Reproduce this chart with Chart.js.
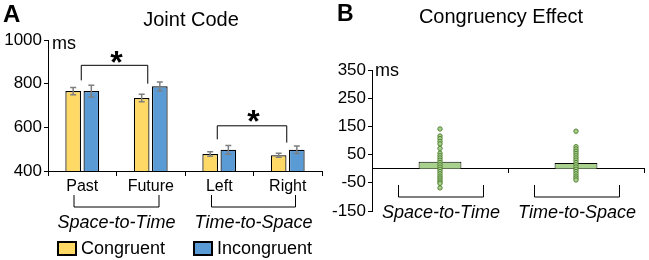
<!DOCTYPE html>
<html>
<head>
<meta charset="utf-8">
<script src="https://cdn.jsdelivr.net/npm/chart.js@4"></script>
<style>
  body { margin: 0; background: #fff; width: 649px; height: 260px; overflow: hidden; position: relative; }
  canvas { position: absolute; top: 0; }
  #jointChart { left: 0; }
  #effectChart { left: 320px; }
</style>
</head>
<body>
<canvas id="jointChart" width="330" height="260"></canvas>
<canvas id="effectChart" width="329" height="260"></canvas>
<script>
// Panel A data
const conditions = ["Past", "Future", "Left", "Right"];
const congruentRT = [766, 734, 478, 472];
const incongruentRT = [766, 788, 497, 497];
const congruentErr = [17, 17, 10, 9];
const incongruentErr = [27, 20, 20, 17];
const jointTicks = [400, 600, 800, 1000];

// Panel B data
const tasks = ["Space-to-Time", "Time-to-Space"];
const effectMeans = [25, 20];
const effectSpaceToTime = [141, 116, 107, 97, 88, 72, 55, 46, 38, 30, 22, 14, 6, -2, -10, -18, -26, -33, -40, -47, -52, -68];
const effectTimeToSpace = [133, 78, 70, 62, 54, 46, 38, 30, 22, 14, 6, -2, -10, -18, -26, -33, -40];
const effectTicks = [-150, -50, 50, 150, 250, 350];

const FONT = 'Arial, "Liberation Sans", sans-serif';
Chart.defaults.font.family = FONT;
Chart.defaults.color = "#000";

const yellow = "#FFD966";
const blue = "#5B9BD5";
const green = "#A9D18E";

function txt(ctx, s, x, y, size, opts = {}) {
  ctx.save();
  ctx.font = (opts.style || "") + " " + size + "px " + FONT;
  ctx.fillStyle = "#000";
  ctx.textAlign = opts.align || "center";
  ctx.textBaseline = opts.baseline || "middle";
  ctx.fillText(s, x, y);
  ctx.restore();
}

function bracket(ctx, x1, x2, y, y1, y2) {
  ctx.beginPath();
  ctx.moveTo(x1, y1);
  ctx.lineTo(x1, y);
  ctx.lineTo(x2, y);
  ctx.lineTo(x2, y2);
  ctx.stroke();
}

// Panel A: error bars, brackets, labels, legend
const jointExtras = {
  id: "jointExtras",
  afterDatasetsDraw(chart) {
    const ctx = chart.ctx;
    const ys = chart.scales.y;
    const errs = [congruentErr, incongruentErr];
    ctx.save();
    ctx.strokeStyle = "#7F7F7F";
    ctx.lineWidth = 1.5;
    chart.data.datasets.forEach((ds, i) => {
      chart.getDatasetMeta(i).data.forEach((bar, j) => {
        const v = ds.data[j];
        const top = ys.getPixelForValue(v + errs[i][j]);
        const bot = ys.getPixelForValue(v - errs[i][j]);
        ctx.beginPath();
        ctx.moveTo(bar.x, top); ctx.lineTo(bar.x, bot);
        ctx.moveTo(bar.x - 3, top); ctx.lineTo(bar.x + 3, top);
        ctx.moveTo(bar.x - 3, bot); ctx.lineTo(bar.x + 3, bot);
        ctx.stroke();
      });
    });
    ctx.restore();
  },
  afterDraw(chart) {
    const ctx = chart.ctx;
    const xs = chart.scales.x, ys = chart.scales.y;
    const cx = i => xs.getPixelForValue(i);

    txt(ctx, "A", 3, 15, 24, { style: "bold", align: "left" });
    txt(ctx, "Joint Code", 191, 20, 20);
    txt(ctx, "ms", 52, 44, 18, { align: "left" });

    // significance brackets
    ctx.save();
    ctx.strokeStyle = "#000";
    ctx.lineWidth = 1;
    bracket(ctx, cx(0) - 1, cx(1) - 3, ys.getPixelForValue(884), ys.getPixelForValue(815), ys.getPixelForValue(800));
    bracket(ctx, cx(2) - 2, cx(3) - 1, ys.getPixelForValue(607), ys.getPixelForValue(545), ys.getPixelForValue(530));
    ctx.restore();
    txt(ctx, "*", (cx(0) + cx(1)) / 2, 73, 32, { style: "bold", baseline: "alphabetic" });
    txt(ctx, "*", (cx(2) + cx(3)) / 2, 132, 32, { style: "bold", baseline: "alphabetic" });

    // group brackets and labels
    ctx.save();
    ctx.strokeStyle = "#000";
    ctx.lineWidth = 1;
    const g1 = (cx(0) + cx(1)) / 2, g2 = (cx(2) + cx(3)) / 2;
    bracket(ctx, g1 - 42.5, g1 + 42.5, 207, 195, 195);
    bracket(ctx, g2 - 42, g2 + 42, 207, 195, 195);
    ctx.restore();
    txt(ctx, "Space-to-Time", g1, 223, 18, { style: "italic" });
    txt(ctx, "Time-to-Space", g2, 223, 18, { style: "italic" });

    // legend
    const items = [[chart.data.datasets[0], 58], [chart.data.datasets[1], 194]];
    items.forEach(([ds, x]) => {
      ctx.save();
      ctx.fillStyle = ds.backgroundColor;
      ctx.strokeStyle = "#000";
      ctx.lineWidth = 2;
      ctx.fillRect(x, 242, 18, 13);
      ctx.strokeRect(x, 242, 18, 13);
      ctx.restore();
      txt(ctx, ds.label, x + 23, 249, 18, { align: "left" });
    });
  }
};

new Chart(document.getElementById("jointChart"), {
  type: "bar",
  data: {
    labels: conditions,
    datasets: [
      { label: "Congruent", data: congruentRT, backgroundColor: yellow, borderColor: "#000", borderWidth: 1.2 },
      { label: "Incongruent", data: incongruentRT, backgroundColor: blue, borderColor: "#000", borderWidth: 1.2 }
    ]
  },
  options: {
    responsive: false,
    animation: false,
    devicePixelRatio: 1,
    categoryPercentage: 0.53,
    barPercentage: 0.86,
    layout: { padding: { top: 40, right: 8, left: 0, bottom: 0 } },
    plugins: { legend: { display: false }, tooltip: { enabled: false } },
    scales: {
      x: {
        grid: { drawOnChartArea: false, offset: true, tickLength: 5, color: "#000" },
        border: { color: "#000", width: 1 },
        ticks: { font: { size: 16 }, padding: 1, color: "#000" },
        afterFit: s => { s.height = 89; }
      },
      y: {
        min: 400, max: 1000,
        afterBuildTicks: s => { s.ticks = jointTicks.map(v => ({ value: v })); },
        grid: { drawOnChartArea: false, tickLength: 4, color: "#000" },
        border: { color: "#000", width: 1 },
        ticks: { font: { size: 17 }, padding: 2, color: "#000", callback: v => String(v) },
        afterFit: s => { s.width = 48; }
      }
    }
  },
  plugins: [jointExtras]
});

// Panel B: titles, brackets, italic task labels
const effectExtras = {
  id: "effectExtras",
  afterDraw(chart) {
    const ctx = chart.ctx;
    const xs = chart.scales.x;
    txt(ctx, "B", 17, 15, 23, { style: "bold", align: "left" });
    txt(ctx, "Congruency Effect", 181, 17, 20);
    txt(ctx, "ms", 55, 71, 18, { align: "left" });
    ctx.save();
    ctx.strokeStyle = "#000";
    ctx.lineWidth = 1;
    tasks.forEach((t, i) => {
      const c = xs.getPixelForValue(i) + 1;
      bracket(ctx, c - 42.5, c + 42.5, 197, 185, 185);
      txt(ctx, t, c, 213, 18, { style: "italic" });
    });
    ctx.restore();
  }
};

new Chart(document.getElementById("effectChart"), {
  type: "bar",
  data: {
    labels: tasks,
    datasets: [
      {
        type: "scatter",
        data: effectSpaceToTime.map(v => ({ x: tasks[0], y: v })).concat(effectTimeToSpace.map(v => ({ x: tasks[1], y: v }))),
        pointRadius: 2.2,
        pointBackgroundColor: green,
        pointBorderColor: "#548235",
        pointBorderWidth: 1,
        order: 0
      },
      {
        type: "bar",
        data: effectMeans,
        backgroundColor: green,
        borderColor: "#000",
        borderWidth: 1,
        categoryPercentage: 1,
        barPercentage: 0.315,
        order: 1
      }
    ]
  },
  options: {
    responsive: false,
    animation: false,
    devicePixelRatio: 1,
    layout: { padding: { top: 70, right: 4, left: 0, bottom: 49 } },
    plugins: { legend: { display: false }, tooltip: { enabled: false } },
    scales: {
      x: {
        type: "category",
        position: { y: 0 },
        offset: true,
        grid: { drawOnChartArea: false, offset: true, tickLength: 4, color: "#000" },
        border: { color: "#000", width: 1 },
        ticks: { display: false }
      },
      y: {
        min: -150, max: 350,
        afterBuildTicks: s => { s.ticks = effectTicks.map(v => ({ value: v })); },
        grid: { drawOnChartArea: false, tickLength: 4, color: "#000" },
        border: { color: "#000", width: 1 },
        ticks: { font: { size: 17 }, padding: 2, color: "#000", callback: v => String(v) },
        afterFit: s => { s.width = 52; }
      }
    }
  },
  plugins: [effectExtras]
});
</script>
</body>
</html>
